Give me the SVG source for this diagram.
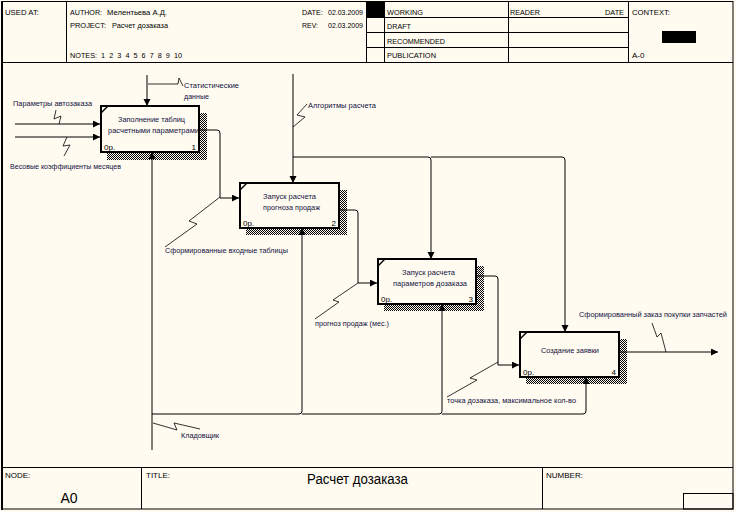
<svg xmlns="http://www.w3.org/2000/svg" width="736" height="512" viewBox="0 0 736 512">
<defs>
<pattern id="hatch" width="2" height="2" patternUnits="userSpaceOnUse">
<rect x="0" y="0" width="1" height="1" fill="#000"/>
<rect x="1" y="1" width="1" height="1" fill="#000"/>
</pattern>
<marker id="ah" markerUnits="userSpaceOnUse" markerWidth="8" markerHeight="8" refX="7" refY="3.5" orient="auto">
<path d="M0,0 L7,3.5 L0,7 z" fill="#000"/>
</marker>
<style>
text{font-family:"Liberation Sans",Arial,sans-serif;font-size:8px;fill:#000}
.lbl{fill:#101040}
.big{font-size:14px}
.frame{fill:none;stroke:#000;stroke-width:1}
.box{fill:#FFFBF0;stroke:#000;stroke-width:2}
.shadow{fill:url(#hatch)}
.arr{fill:none;stroke:#000;stroke-width:1;marker-end:url(#ah)}
.sq{fill:none;stroke:#000;stroke-width:0.8}
.mid{text-anchor:middle}
.end{text-anchor:end}
</style>
</defs>
<rect width="736" height="512" fill="#FFFBF0"/>
<g id="frame">
<rect x="2" y="1.5" width="731" height="507.5" class="frame" stroke-width="1.5"/>
<line x1="2" y1="1" x2="2" y2="510" stroke="#000" stroke-width="2"/>
<line x1="2" y1="62.5" x2="733" y2="62.5" stroke="#000"/>
<line x1="66.5" y1="1" x2="66.5" y2="62.5" stroke="#000"/>
<line x1="366.5" y1="1" x2="366.5" y2="62.5" stroke="#000"/>
<line x1="384.5" y1="1" x2="384.5" y2="62.5" stroke="#000"/>
<line x1="508.5" y1="1" x2="508.5" y2="62.5" stroke="#000"/>
<line x1="628.5" y1="1" x2="628.5" y2="62.5" stroke="#000"/>
<line x1="366.5" y1="17.5" x2="628.5" y2="17.5" stroke="#000"/>
<line x1="366.5" y1="32.5" x2="628.5" y2="32.5" stroke="#000"/>
<line x1="366.5" y1="47.5" x2="628.5" y2="47.5" stroke="#000"/>
<rect x="367" y="1" width="17" height="16" fill="#000"/>
<rect x="662" y="31" width="34" height="12" fill="#000"/>
<text x="5" y="15" textLength="34" lengthAdjust="spacingAndGlyphs">USED AT:</text>
<text x="70" y="15" textLength="32" lengthAdjust="spacingAndGlyphs">AUTHOR:</text>
<text x="107" y="15" textLength="60" lengthAdjust="spacingAndGlyphs">Мелентьева А.Д.</text>
<text x="70" y="28" textLength="36" lengthAdjust="spacingAndGlyphs">PROJECT:</text>
<text x="112" y="28" textLength="56" lengthAdjust="spacingAndGlyphs">Расчет дозаказа</text>
<text x="70" y="58" xml:space="preserve" textLength="112" lengthAdjust="spacingAndGlyphs">NOTES:  1  2  3  4  5  6  7  8  9  10</text>
<text x="302" y="15" textLength="21" lengthAdjust="spacingAndGlyphs">DATE:</text>
<text x="328" y="15" textLength="35" lengthAdjust="spacingAndGlyphs">02.03.2009</text>
<text x="302" y="28" textLength="16" lengthAdjust="spacingAndGlyphs">REV:</text>
<text x="328" y="28" textLength="35" lengthAdjust="spacingAndGlyphs">02.03.2009</text>
<text x="387" y="15" textLength="36" lengthAdjust="spacingAndGlyphs">WORKING</text>
<text x="387" y="29" textLength="24" lengthAdjust="spacingAndGlyphs">DRAFT</text>
<text x="387" y="44" textLength="58" lengthAdjust="spacingAndGlyphs">RECOMMENDED</text>
<text x="387" y="58" textLength="49" lengthAdjust="spacingAndGlyphs">PUBLICATION</text>
<text x="510" y="15" textLength="30" lengthAdjust="spacingAndGlyphs">READER</text>
<text x="605" y="15" textLength="19" lengthAdjust="spacingAndGlyphs">DATE</text>
<text x="632" y="15" textLength="38" lengthAdjust="spacingAndGlyphs">CONTEXT:</text>
<text x="632" y="58">A-0</text>
<line x1="2" y1="467.5" x2="733" y2="467.5" stroke="#000"/>
<line x1="141.5" y1="467.5" x2="141.5" y2="509" stroke="#000"/>
<line x1="542.5" y1="467.5" x2="542.5" y2="509" stroke="#000"/>
<rect x="683.5" y="493.5" width="49.5" height="15.5" class="frame"/>
<text x="5" y="478">NODE:</text>
<text x="146" y="478">TITLE:</text>
<text x="546" y="478">NUMBER:</text>
<text x="69" y="503" class="big mid">A0</text>
<text x="307" y="484" class="big" textLength="101" lengthAdjust="spacingAndGlyphs">Расчет дозаказа</text>
</g>
<g id="connectors">
<path class="arr" d="M15,124 H100"/>
<path class="arr" d="M15,137 H100"/>
<path class="arr" d="M147,75 V106"/>
<path class="arr" d="M199,130 H217 Q220,130 220,133 V198 H239"/>
<path class="arr" d="M293,74 V183"/>
<path class="arr" d="M293,157 H428 Q431,157 431,160 V259"/>
<path class="arr" d="M431,157 H562 Q565,157 565,160 V332"/>
<path class="arr" d="M339,210 H355 Q358,210 358,213 V283 H377"/>
<path class="arr" d="M476,276 H495 Q498,276 498,279 V365 H519"/>
<path class="arr" d="M619,352 H718"/>
<path class="arr" d="M152,450 V152"/>
<path class="arr" d="M152,414 H299 Q302,414 302,411 V228"/>
<path class="arr" d="M302,414 H439 Q442,414 442,411 V304"/>
<path class="arr" d="M442,414 H583 Q586,414 586,411 V377"/>
<polyline class="sq" points="59,124 61,116 54,119 56,110"/>
<polyline class="sq" points="67,137 63,146 70,145 64,156"/>
<polyline class="sq" points="148,84 178,84 179,78 183,86"/>
<polyline class="sq" points="307,104 297,115 305,117 293,127"/>
<polyline class="sq" points="220,197 189,221 197,224 165,247"/>
<polyline class="sq" points="358,283 333,300 339,302 315,319"/>
<polyline class="sq" points="498,362 470,378 477,380 447,397"/>
<polyline class="sq" points="652,323 657,337 661,333 666,352"/>
<polyline class="sq" points="153,423 177,430 174,423 200,429"/>
<text x="13" y="106" class="lbl" textLength="79" lengthAdjust="spacingAndGlyphs">Параметры автозаказа</text>
<text x="10" y="169" class="lbl" textLength="111" lengthAdjust="spacingAndGlyphs">Весовые коэффициенты месяцев</text>
<text x="184" y="88" class="lbl" textLength="55" lengthAdjust="spacingAndGlyphs">Статистические</text>
<text x="184" y="99" class="lbl" textLength="25" lengthAdjust="spacingAndGlyphs">данные</text>
<text x="308" y="108" class="lbl" textLength="68" lengthAdjust="spacingAndGlyphs">Алгоритмы расчета</text>
<text x="165" y="253" class="lbl" textLength="123" lengthAdjust="spacingAndGlyphs">Сформированные входные таблицы</text>
<text x="315" y="326" class="lbl" textLength="74" lengthAdjust="spacingAndGlyphs">прогноз продаж (мес.)</text>
<text x="447" y="403" class="lbl" textLength="129" lengthAdjust="spacingAndGlyphs">точка дозаказа, максимальное кол-во</text>
<text x="579" y="317" class="lbl" textLength="148" lengthAdjust="spacingAndGlyphs">Сформированный заказ покупки запчастей</text>
<text x="181" y="438" class="lbl" textLength="38" lengthAdjust="spacingAndGlyphs">Кладовщик</text>
</g>
<g id="node1">
<rect x="107" y="113" width="100" height="47" class="shadow"/>
<rect x="101" y="106" width="98" height="46" class="box"/>
<line x1="101" y1="113" x2="108" y2="106" stroke="#000" stroke-width="1.5"/>
<text x="118" y="122" class="lbl" textLength="67" lengthAdjust="spacingAndGlyphs">Заполнение таблиц</text>
<text x="108" y="133" class="lbl" textLength="91" lengthAdjust="spacingAndGlyphs">расчетными параметрами</text>
<text x="104" y="150">0р.</text>
<text x="196" y="150" class="end">1</text>
</g>
<g id="node2">
<rect x="246" y="190" width="101" height="45" class="shadow"/>
<rect x="240" y="183" width="99" height="45" class="box"/>
<line x1="240" y1="190" x2="247" y2="183" stroke="#000" stroke-width="1.5"/>
<text x="263" y="199" class="lbl" textLength="53" lengthAdjust="spacingAndGlyphs">Запуск расчета</text>
<text x="263" y="210" class="lbl" textLength="57" lengthAdjust="spacingAndGlyphs">прогноза продаж</text>
<text x="243" y="226">0р.</text>
<text x="336" y="226" class="end">2</text>
</g>
<g id="node3">
<rect x="384" y="266" width="100" height="45" class="shadow"/>
<rect x="378" y="259" width="98" height="45" class="box"/>
<line x1="378" y1="266" x2="385" y2="259" stroke="#000" stroke-width="1.5"/>
<text x="402" y="275" class="lbl" textLength="53" lengthAdjust="spacingAndGlyphs">Запуск расчета</text>
<text x="393" y="286" class="lbl" textLength="74" lengthAdjust="spacingAndGlyphs">параметров дозаказа</text>
<text x="381" y="302">0р.</text>
<text x="473" y="302" class="end">3</text>
</g>
<g id="node4">
<rect x="526" y="339" width="101" height="45" class="shadow"/>
<rect x="520" y="332" width="99" height="45" class="box"/>
<line x1="520" y1="339" x2="527" y2="332" stroke="#000" stroke-width="1.5"/>
<text x="541" y="353" class="lbl" textLength="58" lengthAdjust="spacingAndGlyphs">Создание заявки</text>
<text x="523" y="375">0р.</text>
<text x="616" y="375" class="end">4</text>
</g>
</svg>
